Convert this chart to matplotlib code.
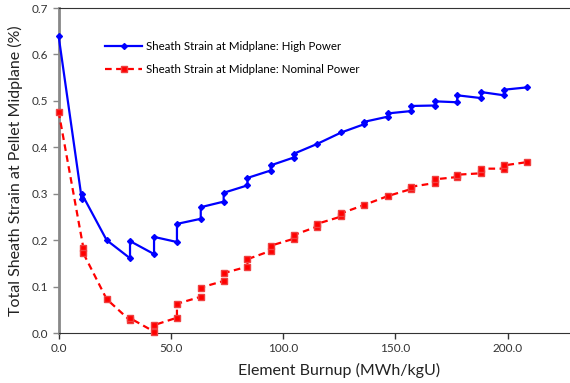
import matplotlib
matplotlib.use('Agg')
import matplotlib.pyplot as plt

plt.rcParams['font.family'] = ['Lato', 'DejaVu Sans']

# Element burnup (MWh/kgU) - points in pairs where power step causes a jump
burnup_high = [0.0, 10.3, 10.3, 21.4, 31.8, 31.8, 42.5, 42.5, 52.7, 52.7, 63.3, 63.3,
               73.5, 73.5, 84.1, 84.1, 94.4, 94.4, 104.7, 104.7, 115.0, 125.9,
               136.2, 136.2, 146.6, 146.6, 156.9, 156.9, 167.5, 167.5, 177.5, 177.5,
               188.1, 188.1, 198.3, 198.3, 208.5]
strain_high = [0.640, 0.289, 0.300, 0.200, 0.161, 0.198, 0.170, 0.207, 0.196, 0.235, 0.246, 0.271,
               0.283, 0.302, 0.318, 0.334, 0.350, 0.361, 0.378, 0.386, 0.407, 0.432,
               0.450, 0.455, 0.466, 0.473, 0.478, 0.489, 0.490, 0.499, 0.497, 0.512,
               0.506, 0.519, 0.512, 0.524, 0.529]

burnup_nom = [0.0, 11.0, 11.0, 21.4, 31.8, 31.8, 42.5, 42.5, 52.7, 52.7, 63.3, 63.3,
              73.5, 73.5, 84.1, 84.1, 94.4, 94.4, 104.7, 104.7, 115.0, 115.0, 125.9, 125.9,
              136.2, 146.6, 156.9, 156.9, 167.5, 167.5, 177.5, 177.5,
              188.1, 188.1, 198.3, 198.3, 208.5]
strain_nom = [0.477, 0.184, 0.172, 0.073, 0.027, 0.032, 0.003, 0.017, 0.033, 0.063, 0.078, 0.098,
              0.112, 0.129, 0.143, 0.159, 0.177, 0.188, 0.203, 0.211, 0.229, 0.235, 0.251, 0.258,
              0.276, 0.295, 0.310, 0.315, 0.323, 0.331, 0.336, 0.341,
              0.344, 0.354, 0.354, 0.361, 0.368]

xticks = [0, 50, 100, 150, 200]
yticks = [0.0, 0.1, 0.2, 0.3, 0.4, 0.5, 0.6, 0.7]

fig = plt.figure(figsize=(5.7, 3.83), dpi=100)
# axes deliberately run past the right edge (the original is cropped)
ax = fig.add_axes([0.1028, 0.1305, 0.985, 0.8486])

ax.plot(burnup_high, strain_high, color='#0000FF', linewidth=1.6, marker='D', markersize=3,
        label='Sheath Strain at Midplane: High Power', clip_on=False, zorder=3)
ax.plot(burnup_nom, strain_nom, color='#FF0000', linewidth=1.6, linestyle=(0, (3, 2)), marker='s',
        markersize=5, markeredgecolor='#F04040', label='Sheath Strain at Midplane: Nominal Power',
        clip_on=False, zorder=3)

ax.set_xlim(0, 250)
ax.set_ylim(0, 0.7)
ax.set_xticks(xticks)
ax.set_xticklabels([f'{t:.1f}' for t in xticks])
ax.set_yticks(yticks)
ax.set_yticklabels([f'{t:.1f}' for t in yticks])
ax.tick_params(axis='both', labelsize=8.5, direction='out', length=4, width=1)
ax.tick_params(axis='y', colors='#888888', labelcolor='#333333')
ax.tick_params(axis='x', colors='#333333', labelcolor='#333333')

ax.spines['left'].set_color('#888888')
ax.spines['left'].set_linewidth(2)
ax.spines['bottom'].set_color('#333333')
ax.spines['top'].set_color('#333333')
ax.spines['right'].set_visible(False)

ax.set_xlabel('Element Burnup (MWh/kgU)', fontsize=11.5, color='#222222', labelpad=6)
ax.set_ylabel('Total Sheath Strain at Pellet Midplane (%)', fontsize=11.5, color='#222222', labelpad=6)

ax.legend(loc='upper left', bbox_to_anchor=(0.065, 0.93), frameon=False, fontsize=8.3,
          handlelength=3.2, handletextpad=0.3, labelspacing=1.0)

fig.savefig('out.png', dpi=100)
